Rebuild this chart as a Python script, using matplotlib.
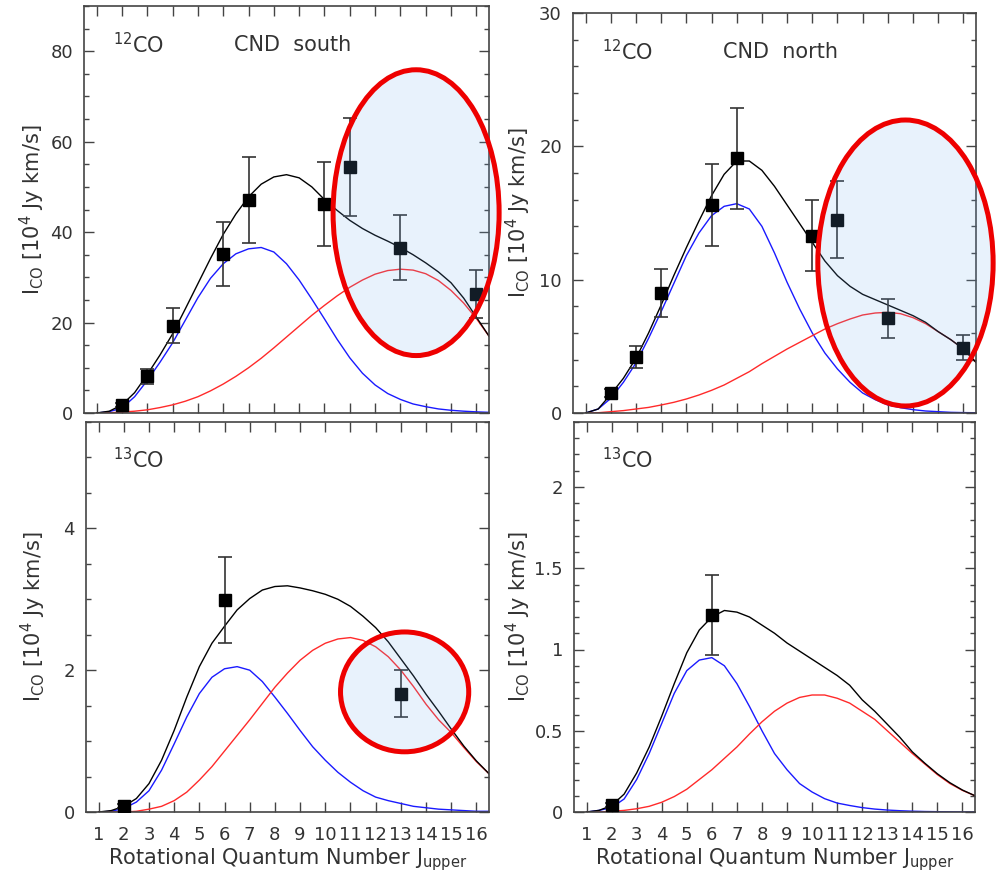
import numpy as np
import matplotlib
matplotlib.use('Agg')
import matplotlib.pyplot as plt
from matplotlib.patches import Ellipse
from matplotlib.ticker import MultipleLocator, FormatStrFormatter

j_model = np.arange(1, 16.51, 0.5)

south12_total = [0, 0.4, 1.8, 4.5, 8.5, 12.8, 17.5, 23.0, 28.6, 34.2, 39.5, 44.0, 47.8, 50.6, 52.2, 52.7,
                 52.0, 50.0, 47.2, 44.8, 42.6, 40.8, 39.3, 38.0, 36.6, 35.0, 33.2, 31.2, 28.8, 25.4, 21.2, 17.0]
south12_cold = [0, 0.3, 1.1, 3.6, 7.2, 11.2, 15.5, 20.5, 25.5, 29.8, 33.0, 35.2, 36.3, 36.6, 35.6, 33.0,
                29.4, 25.2, 20.8, 16.3, 12.2, 8.8, 6.2, 4.3, 3.0, 2.0, 1.4, 0.9, 0.6, 0.4, 0.25, 0.15]
south12_warm = [0, 0.05, 0.2, 0.4, 0.7, 1.2, 1.8, 2.6, 3.6, 4.9, 6.4, 8.1, 10.0, 12.1, 14.4, 16.8,
                19.2, 21.6, 23.8, 25.9, 27.8, 29.4, 30.7, 31.5, 31.8, 31.6, 30.8, 29.3, 27.1, 24.3, 20.9, 17.0]

north12_total = [0, 0.3, 1.4, 2.6, 4.1, 6.0, 8.1, 10.3, 12.4, 14.4, 16.3, 17.9, 18.9, 18.9, 18.2, 17.0,
                 15.6, 14.2, 12.8, 11.4, 10.3, 9.5, 8.9, 8.5, 8.1, 7.7, 7.3, 6.8, 6.1, 5.5, 4.8, 3.8]
north12_cold = [0, 0.3, 1.1, 2.3, 3.75, 5.6, 7.6, 9.7, 11.8, 13.5, 14.8, 15.5, 15.7, 15.3, 14.0, 12.0,
                9.8, 7.8, 6.0, 4.5, 3.3, 2.3, 1.5, 1.0, 0.6, 0.4, 0.25, 0.15, 0.1, 0.05, 0.03, 0.02]
north12_warm = [0, 0.02, 0.1, 0.18, 0.3, 0.42, 0.6, 0.8, 1.05, 1.35, 1.7, 2.1, 2.6, 3.1, 3.7, 4.25,
                4.8, 5.3, 5.8, 6.3, 6.7, 7.05, 7.35, 7.5, 7.55, 7.45, 7.15, 6.7, 6.1, 5.5, 4.8, 3.8]

south13_total = [0, 0.02, 0.08, 0.19, 0.40, 0.73, 1.15, 1.62, 2.05, 2.38, 2.62, 2.85, 3.01, 3.13, 3.18, 3.19,
                 3.16, 3.12, 3.07, 3.0, 2.9, 2.76, 2.6, 2.4, 2.16, 1.92, 1.66, 1.42, 1.17, 0.93, 0.72, 0.54]
south13_cold = [0, 0.01, 0.05, 0.14, 0.3, 0.59, 0.96, 1.34, 1.67, 1.9, 2.02, 2.05, 2.0, 1.84, 1.62, 1.39,
                1.15, 0.92, 0.73, 0.56, 0.42, 0.3, 0.21, 0.16, 0.12, 0.08, 0.06, 0.04, 0.03, 0.02, 0.01, 0.01]
south13_warm = [0, 0, 0.0, 0.01, 0.04, 0.08, 0.16, 0.28, 0.45, 0.64, 0.86, 1.08, 1.3, 1.53, 1.76, 1.96,
                2.14, 2.28, 2.38, 2.44, 2.46, 2.42, 2.33, 2.19, 2.0, 1.77, 1.52, 1.3, 1.12, 0.91, 0.71, 0.54]

north13_total = [0, 0.01, 0.04, 0.11, 0.24, 0.40, 0.59, 0.79, 0.98, 1.12, 1.2, 1.24, 1.23, 1.2, 1.15, 1.1,
                 1.04, 0.99, 0.94, 0.89, 0.84, 0.78, 0.69, 0.62, 0.54, 0.46, 0.37, 0.3, 0.235, 0.18, 0.135, 0.1]
north13_cold = [0, 0.01, 0.027, 0.08, 0.2, 0.36, 0.545, 0.73, 0.87, 0.935, 0.95, 0.9, 0.79, 0.65, 0.5, 0.36,
                0.26, 0.175, 0.123, 0.082, 0.055, 0.04, 0.027, 0.018, 0.012, 0.008, 0.005, 0.003, 0.002, 0.001, 0, 0]
north13_warm = [0, 0, 0.004, 0.01, 0.02, 0.035, 0.06, 0.095, 0.14, 0.2, 0.26, 0.33, 0.4, 0.48, 0.555, 0.62,
                0.67, 0.705, 0.72, 0.72, 0.7, 0.67, 0.62, 0.57, 0.5, 0.43, 0.36, 0.295, 0.23, 0.175, 0.133, 0.1]

# observed line fluxes
j12 = [2, 3, 4, 6, 7, 10, 11, 13, 16]
south12_flux = [1.8, 8.1, 19.3, 35.2, 47.2, 46.2, 54.4, 36.5, 26.4]
south12_err = [0.5, 1.7, 3.9, 7.1, 9.5, 9.3, 10.9, 7.2, 5.3]
north12_flux = [1.5, 4.2, 9.0, 15.6, 19.1, 13.3, 14.5, 7.1, 4.9]
north12_err = [0.3, 0.85, 1.8, 3.1, 3.8, 2.65, 2.9, 1.45, 0.95]

j13_south = [2, 6, 13]
south13_flux = [0.08, 2.99, 1.67]
south13_err = [0.03, 0.6, 0.335]
j13_north = [2, 6]
north13_flux = [0.041, 1.213]
north13_err = [0.012, 0.245]

xticks = list(range(1, 17))

txt = '#333333'
fig = plt.figure(figsize=(9.96, 8.75), dpi=100)


def add_ax(l, r, t, b):
    return fig.add_axes([l / 996, 1 - b / 875, (r - l) / 996, (b - t) / 875])


def style(ax, ymax, major, minor, bottom_labels, lab_x):
    ax.set_xlim(0.5, 16.5)
    ax.set_ylim(0, ymax)
    ax.set_xticks(xticks)
    ax.yaxis.set_major_locator(MultipleLocator(major))
    ax.yaxis.set_minor_locator(MultipleLocator(minor))
    ax.yaxis.set_major_formatter(FormatStrFormatter('%g'))
    ax.tick_params(which='both', direction='in', top=True, right=True, color='#444444',
                   labelcolor=txt, labelsize=13, width=1.0)
    ax.tick_params(which='major', length=7)
    ax.tick_params(which='minor', length=3.5)
    ax.tick_params(axis='y', pad=8)
    ax.tick_params(axis='x', pad=10, labelbottom=bottom_labels)
    for s in ax.spines.values():
        s.set_color('#444444')
        s.set_linewidth(1.2)
    ax.set_ylabel(r'I$_{\rm CO}$ [10$^4$ Jy km/s]', fontsize=15, color=txt)
    ax.yaxis.set_label_coords(lab_x, 0.5)
    if bottom_labels:
        ax.set_xlabel(r'Rotational Quantum Number J$_{\rm upper}$', fontsize=15, color=txt, labelpad=2)


def curves(ax, total, cold, warm):
    ax.plot(j_model, cold, color='#1a1aff', lw=1.0)
    ax.plot(j_model, warm, color='#ff2a2a', lw=1.0)
    ax.plot(j_model, total, color='black', lw=1.0)


def points(ax, j, flux, err):
    ax.errorbar(j, flux, yerr=err, fmt='s', color='black', ms=9, ecolor='#333333',
                elinewidth=1.2, capsize=5, capthick=1.2, zorder=5)


def ring(ax, cx, cy, w, h):
    ax.add_patch(Ellipse((cx, cy), w, h, facecolor=(0.45, 0.69, 0.95, 0.16),
                         edgecolor='#ee0000', lw=3.6, clip_on=False, zorder=10))


ax1 = add_ax(84, 489, 6, 413)
curves(ax1, south12_total, south12_cold, south12_warm)
points(ax1, j12, south12_flux, south12_err)
style(ax1, 90, 20, 5, False, -0.091)
ring(ax1, 13.62, 44.3, 6.56, 63.2)
ax1.text(0.072, 0.904, r'$^{12}$CO', transform=ax1.transAxes, fontsize=15, color=txt, va='center')
ax1.text(0.516, 0.904, 'CND  south', transform=ax1.transAxes, fontsize=15, color=txt,
         va='center', ha='center')

ax2 = add_ax(573, 976, 13, 413)
curves(ax2, north12_total, north12_cold, north12_warm)
points(ax2, j12, north12_flux, north12_err)
style(ax2, 30, 10, 2, False, -0.099)
ring(ax2, 13.70, 11.25, 6.96, 21.45)
ax2.text(0.072, 0.9025, r'$^{12}$CO', transform=ax2.transAxes, fontsize=15, color=txt, va='center')
ax2.text(0.516, 0.9025, 'CND  north', transform=ax2.transAxes, fontsize=15, color=txt,
         va='center', ha='center')

ax3 = add_ax(86, 489, 422, 812)
curves(ax3, south13_total, south13_cold, south13_warm)
points(ax3, j13_south, south13_flux, south13_err)
style(ax3, 5.5, 2, 0.5, True, -0.094)
ring(ax3, 13.15, 1.694, 5.09, 1.69)
ax3.text(0.067, 0.903, r'$^{13}$CO', transform=ax3.transAxes, fontsize=15, color=txt, va='center')

ax4 = add_ax(574, 975, 422, 812)
curves(ax4, north13_total, north13_cold, north13_warm)
points(ax4, j13_north, north13_flux, north13_err)
style(ax4, 2.4, 0.5, 0.1, True, -0.102)
ax4.text(0.07, 0.903, r'$^{13}$CO', transform=ax4.transAxes, fontsize=15, color=txt, va='center')

fig.savefig('out.png', dpi=100)
